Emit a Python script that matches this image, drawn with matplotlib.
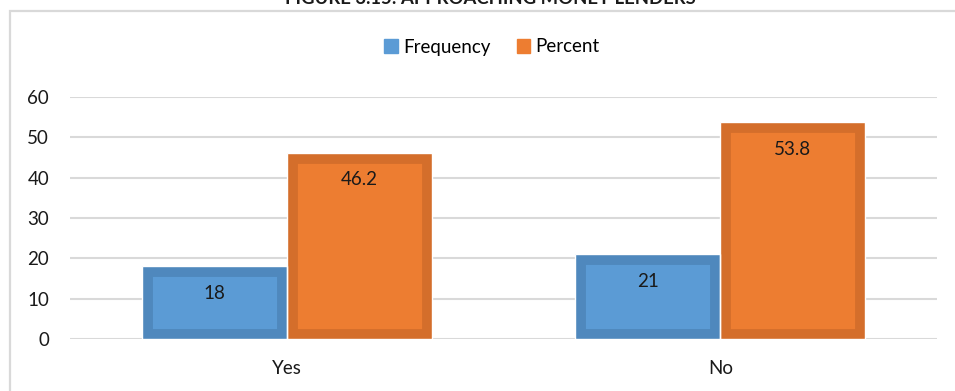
import matplotlib.pyplot as plt
import matplotlib.patches as mpatches
from matplotlib.patches import Rectangle
import numpy as np

categories = ['Yes', 'No']
frequency = [18, 21]
percent = [46.2, 53.8]
yticks = [0, 10, 20, 30, 40, 50, 60]

plt.rcParams['font.family'] = ['Lato', 'DejaVu Sans']
FS = 13.5

fig = plt.figure(figsize=(9.55, 3.91), dpi=100)
ax = fig.add_axes([70 / 955, 52 / 391, 867 / 955, 242 / 391])

x = np.arange(len(categories))
w = 0.334

def draw_bars(xs, vals, face, edge):
    bars = ax.bar(xs, vals, w, color=face, edgecolor=edge, linewidth=15, zorder=3)
    for b in bars:
        # clip to itself so only the inner half of the thick edge shows
        b.set_clip_path(b)
    # thin white gap between neighbouring bars
    ax.bar(xs, vals, w, fill=False, edgecolor='white', linewidth=1, zorder=4)
    for xi, v in zip(xs, vals):
        ax.annotate(f'{v:g}', (xi, v), xytext=(0, -19.5), textcoords='offset points',
                    ha='center', va='center', fontsize=FS, color='#1a1a1a', zorder=5)
    return bars

b1 = draw_bars(x - w / 2, frequency, '#5b9bd5', '#4f88bd')
b2 = draw_bars(x + w / 2, percent, '#ed7d31', '#d46e2b')

ax.set_xlim(-0.5, 1.5)
ax.set_ylim(0, 60)
ax.set_yticks(yticks)
ax.set_xticks(x)
ax.set_xticklabels(categories)
ax.tick_params(length=0, labelsize=FS, colors='#1a1a1a')
ax.tick_params(axis='y', pad=15)
ax.tick_params(axis='x', pad=15)
ax.grid(axis='y', color='#d9d9d9', linewidth=1.5, zorder=0)
for s in ax.spines.values():
    s.set_visible(False)

# chart border (right and bottom fall outside the canvas)
fig.patches.append(Rectangle((10 / 955, -0.1), 1.2, 1 - 11 / 391 + 0.1,
                             transform=fig.transFigure, fill=False,
                             edgecolor='#d9d9d9', linewidth=1.6))

fig.text(490 / 955, 1 - 4 / 391, 'FIGURE 3.15: APPROACHING MONEY LENDERS',
         ha='center', va='baseline', fontsize=13.3, fontweight='bold', color='#1a1a1a')

handles = [mpatches.Patch(color='#5b9bd5', label='Frequency'),
           mpatches.Patch(color='#ed7d31', label='Percent')]
fig.legend(handles=handles, loc='center', bbox_to_anchor=(492 / 955, 1 - 47 / 391),
           ncol=2, frameon=False, fontsize=FS, handlelength=0.7, handleheight=0.7,
           handletextpad=0.3, columnspacing=1.4)

fig.savefig('out.png', dpi=100)
